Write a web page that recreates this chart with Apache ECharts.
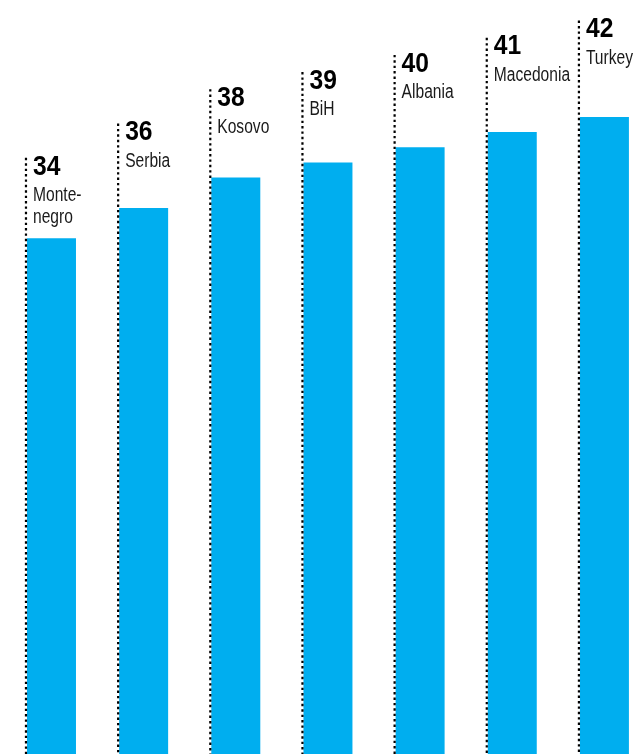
<!DOCTYPE html>
<html>
<head>
<meta charset="utf-8">
<script src="https://cdn.jsdelivr.net/npm/echarts@6/dist/echarts.min.js"></script>
<style>
html,body{margin:0;padding:0;background:#fff;}
#chart{width:642px;height:754px;}
</style>
</head>
<body>
<div id="chart"></div>
<script>
const countries = ['Monte-\nnegro', 'Serbia', 'Kosovo', 'BiH', 'Albania', 'Macedonia', 'Turkey'];
const values = [34, 36, 38, 39, 40, 41, 42];

const chart = echarts.init(document.getElementById('chart'));
const BAR_W = 49;
const FONT = "'Liberation Sans', Arial, sans-serif";

function renderItem(params, api) {
  const i = api.value(0);
  const v = api.value(1);
  const top = api.coord([i, v]);
  const base = api.coord([i, 0]);
  const left = top[0] - BAR_W / 2;
  const anchor = api.coord([i, v * 1.131 + 0.85])[1];
  return {
    type: 'group',
    children: [
      {
        type: 'rect',
        shape: { x: left, y: top[1], width: BAR_W, height: base[1] - top[1] },
        style: { fill: '#00AEEF' }
      },
      {
        type: 'line',
        shape: { x1: left - 1, y1: anchor, x2: left - 1, y2: base[1] },
        style: { stroke: '#000', lineWidth: 2.2, lineDash: [2.4, 3], lineCap: 'butt' }
      },
      {
        type: 'text',
        x: left + 6,
        y: anchor - 5,
        scaleX: 0.88,
        style: {
          text: String(v),
          fill: '#000',
          font: "bold 28px " + FONT,
          textAlign: 'left',
          textVerticalAlign: 'top'
        }
      },
      {
        type: 'text',
        x: left + 6,
        y: anchor + 27,
        scaleX: 0.8,
        style: {
          text: countries[i],
          fill: '#1a1a1a',
          font: "19.5px " + FONT,
          lineHeight: 22,
          textAlign: 'left',
          textVerticalAlign: 'top'
        }
      }
    ]
  };
}

chart.setOption({
  animation: false,
  grid: { left: 5.4, right: -8.5, top: 0, bottom: 0, outerBoundsMode: 'none', containLabel: false },
  xAxis: {
    type: 'category',
    data: countries,
    show: false
  },
  yAxis: {
    type: 'value',
    min: 0,
    max: 49.71,
    show: false
  },
  series: [{
    type: 'custom',
    renderItem: renderItem,
    clip: false,
    data: values.map((v, i) => [i, v])
  }]
});
</script>
</body>
</html>
